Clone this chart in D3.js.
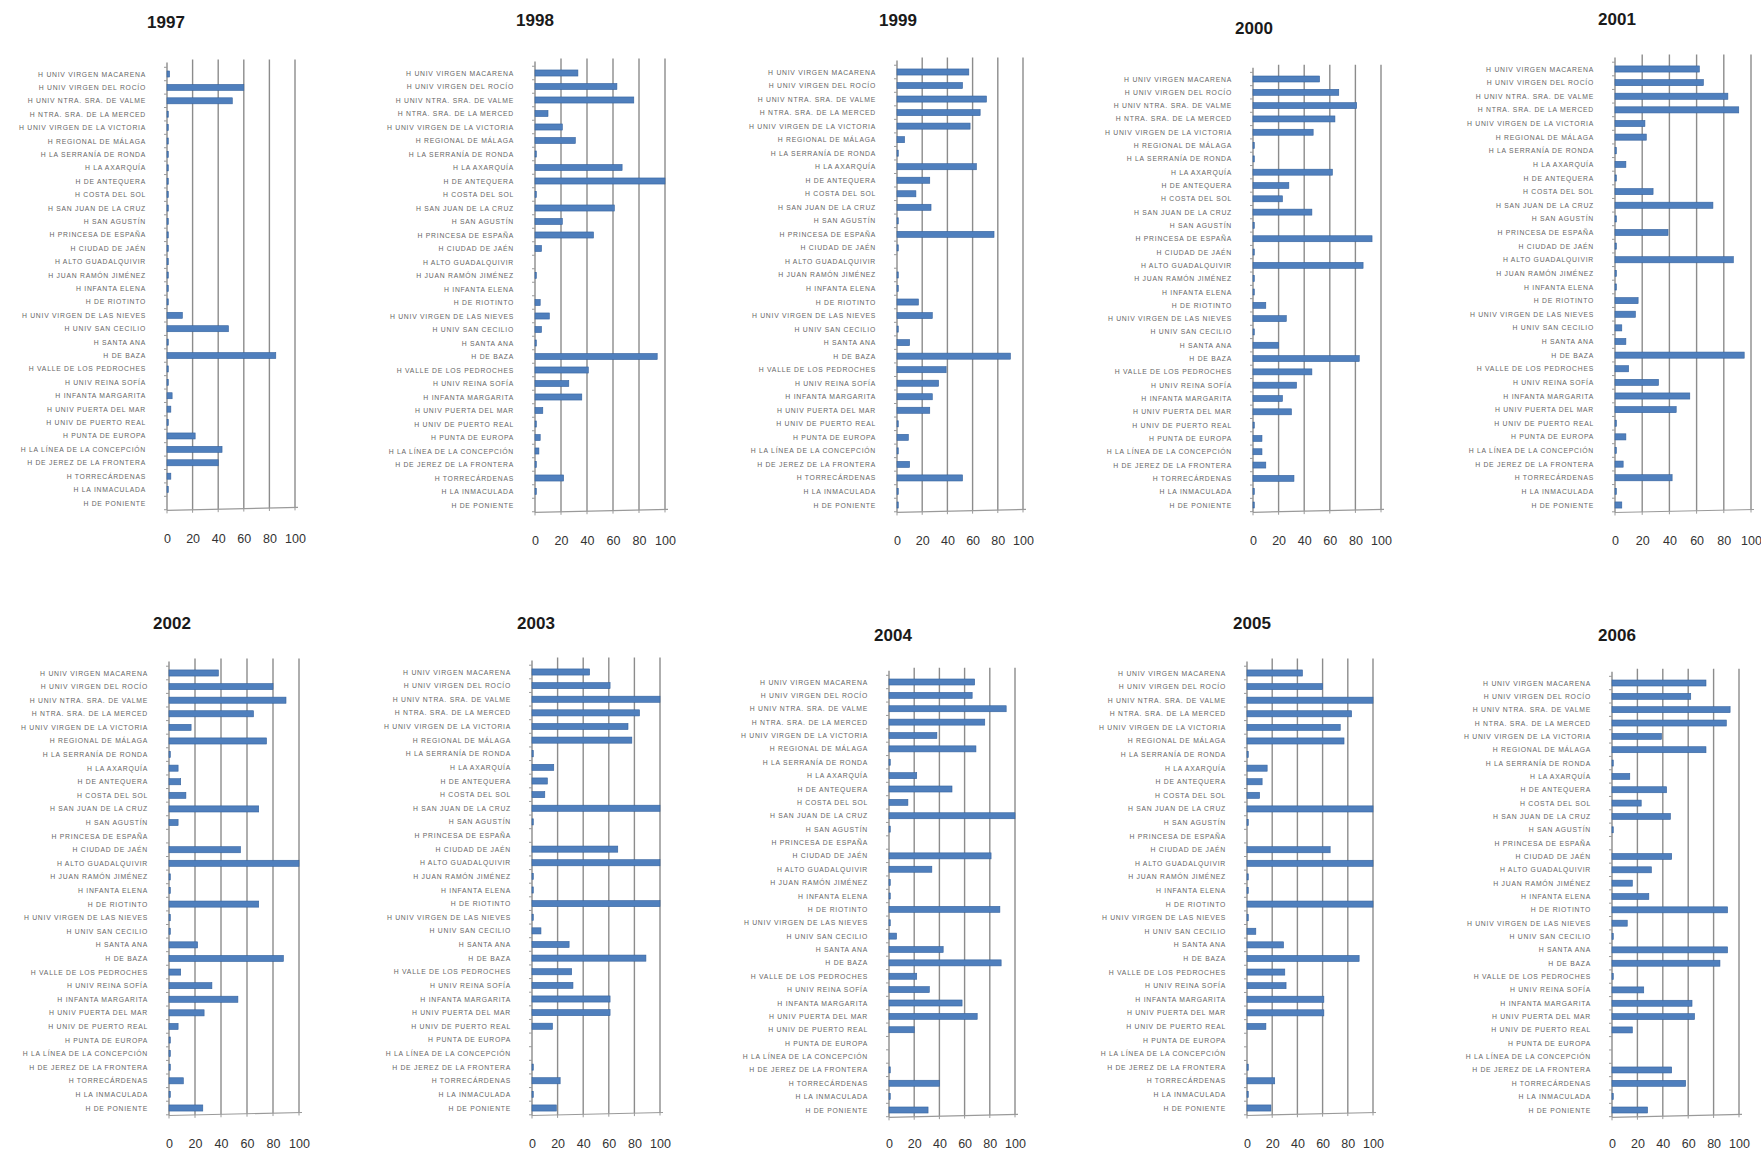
<!DOCTYPE html>
<html>
<head>
<meta charset="utf-8">
<script src="https://cdn.jsdelivr.net/npm/d3@7/dist/d3.min.js"></script>
<style>
  html, body { margin: 0; padding: 0; background: #ffffff; }
  svg { display: block; }
</style>
</head>
<body>
<svg id="chart" width="1761" height="1154"></svg>
<script>
// Hospitals shown on every panel (same order, top to bottom)
const CATEGORIES = [
  "H UNIV VIRGEN MACARENA",
  "H UNIV VIRGEN DEL ROCÍO",
  "H UNIV NTRA. SRA. DE VALME",
  "H NTRA. SRA. DE LA MERCED",
  "H UNIV VIRGEN DE LA VICTORIA",
  "H REGIONAL DE MÁLAGA",
  "H LA SERRANÍA DE RONDA",
  "H LA AXARQUÍA",
  "H DE ANTEQUERA",
  "H COSTA DEL SOL",
  "H SAN JUAN DE LA CRUZ",
  "H SAN AGUSTÍN",
  "H PRINCESA DE ESPAÑA",
  "H CIUDAD DE JAÉN",
  "H ALTO GUADALQUIVIR",
  "H JUAN RAMÓN JIMÉNEZ",
  "H INFANTA ELENA",
  "H DE RIOTINTO",
  "H UNIV VIRGEN DE LAS NIEVES",
  "H UNIV SAN CECILIO",
  "H SANTA ANA",
  "H DE BAZA",
  "H VALLE DE LOS PEDROCHES",
  "H UNIV REINA SOFÍA",
  "H INFANTA MARGARITA",
  "H UNIV PUERTA DEL MAR",
  "H UNIV DE PUERTO REAL",
  "H PUNTA DE EUROPA",
  "H LA LÍNEA DE LA CONCEPCIÓN",
  "H DE JEREZ DE LA FRONTERA",
  "H TORRECÁRDENAS",
  "H LA INMACULADA",
  "H DE PONIENTE"
];

const YEARS = ["1997", "1998", "1999", "2000", "2001", "2002", "2003", "2004", "2005", "2006"];

const TICKS = [0, 20, 40, 60, 80, 100];

// One value per hospital, same order as CATEGORIES
const V1997 = [2, 60, 51, 1, 1, 1, 1, 1, 1, 1, 1, 1, 1, 1, 1, 1, 1, 1, 12, 48, 1, 85, 1, 1, 4, 3, 1, 22, 43, 40, 3, 1, 0];
const V1998 = [33, 63, 76, 10, 21, 31, 1, 67, 100, 1, 61, 21, 45, 5, 0, 1, 0, 4, 11, 5, 1, 94, 41, 26, 36, 6, 1, 4, 3, 1, 22, 1, 0];
const V1999 = [57, 52, 71, 66, 58, 6, 1, 63, 26, 15, 27, 1, 77, 1, 0, 1, 1, 17, 28, 1, 10, 90, 39, 33, 28, 26, 1, 9, 1, 10, 52, 1, 1];
const V2000 = [52, 67, 81, 64, 47, 1, 1, 62, 28, 23, 46, 1, 93, 1, 86, 1, 1, 10, 26, 1, 20, 83, 46, 34, 23, 30, 1, 7, 7, 10, 32, 1, 1];
const V2001 = [62, 65, 83, 91, 22, 23, 1, 8, 1, 28, 72, 1, 39, 1, 87, 1, 1, 17, 15, 5, 8, 95, 10, 32, 55, 45, 1, 8, 1, 6, 42, 1, 5];
const V2002 = [38, 80, 90, 65, 17, 75, 1, 7, 9, 13, 69, 7, 0, 55, 100, 1, 1, 69, 1, 1, 22, 88, 9, 33, 53, 27, 7, 1, 1, 1, 11, 1, 26];
const V2003 = [45, 61, 100, 84, 75, 78, 1, 17, 12, 10, 100, 1, 0, 67, 100, 1, 1, 100, 1, 7, 29, 89, 31, 32, 61, 61, 16, 0, 0, 1, 22, 1, 19];
const V2004 = [68, 66, 93, 76, 38, 69, 1, 22, 50, 15, 100, 1, 0, 81, 34, 1, 1, 88, 1, 6, 43, 89, 22, 32, 58, 70, 20, 0, 0, 1, 40, 1, 31];
const V2005 = [44, 60, 100, 83, 74, 77, 1, 16, 12, 10, 100, 1, 0, 66, 100, 1, 1, 100, 1, 7, 29, 89, 30, 31, 61, 61, 15, 0, 0, 1, 22, 1, 19];
const V2006 = [74, 62, 93, 90, 39, 74, 1, 14, 43, 23, 46, 1, 0, 47, 31, 16, 29, 91, 12, 1, 91, 85, 1, 25, 63, 65, 16, 0, 0, 47, 58, 1, 28];

const VALUES = [V1997, V1998, V1999, V2000, V2001, V2002, V2003, V2004, V2005, V2006];

// Placement of each small chart on the page: value axis 0..100 spans x0..x1,
// first and last category rows at yTop / yBot, year title at (tx, ty)
const LAYOUT = [
  { x0: 167,  x1: 295,  yTop: 74,  yBot: 503,  tx: 166,  ty: 22 },
  { x0: 535,  x1: 665,  yTop: 73,  yBot: 505,  tx: 535,  ty: 20 },
  { x0: 897,  x1: 1023, yTop: 72,  yBot: 505,  tx: 898,  ty: 20 },
  { x0: 1253, x1: 1381, yTop: 79,  yBot: 505,  tx: 1254, ty: 28 },
  { x0: 1615, x1: 1751, yTop: 69,  yBot: 505,  tx: 1617, ty: 19 },
  { x0: 169,  x1: 299,  yTop: 673, yBot: 1108, tx: 172,  ty: 623 },
  { x0: 532,  x1: 660,  yTop: 672, yBot: 1108, tx: 536,  ty: 623 },
  { x0: 889,  x1: 1015, yTop: 682, yBot: 1110, tx: 893,  ty: 635 },
  { x0: 1247, x1: 1373, yTop: 673, yBot: 1108, tx: 1252, ty: 623 },
  { x0: 1612, x1: 1739, yTop: 683, yBot: 1110, tx: 1617, ty: 635 }
];

const BAR_FILL = "#4f7fbd";
const BAR_EDGE = "#35639e";
const GRID = "#8c8c8c";
const AXIS = "#9a9a9a";

const svg = d3.select("#chart");

YEARS.forEach((year, i) => {
  const L = LAYOUT[i];
  const vals = VALUES[i];
  const step = (L.yBot - L.yTop) / (CATEGORIES.length - 1);
  const plotTop = L.yTop - step * 0.85;
  const plotBot = L.yBot + step * 0.55;

  const x = d3.scaleLinear().domain([0, 100]).range([L.x0, L.x1]);
  const y = d3.scaleBand()
    .domain(CATEGORIES)
    .range([L.yTop - step / 2, L.yBot + step / 2])
    .paddingInner(0.55)
    .paddingOuter(0.275);

  const g = svg.append("g").attr("class", "panel");

  // year title
  g.append("text")
    .attr("x", L.tx)
    .attr("y", L.ty)
    .attr("text-anchor", "middle")
    .attr("dominant-baseline", "central")
    .attr("font-family", "Liberation Sans, Arial, sans-serif")
    .attr("font-weight", "bold")
    .attr("font-size", 17)
    .attr("fill", "#1a1a1a")
    .text(year);

  // vertical gridlines on the back wall
  g.append("g")
    .selectAll("line")
    .data(TICKS.filter(t => t > 0))
    .join("line")
    .attr("x1", d => x(d))
    .attr("x2", d => x(d))
    .attr("y1", plotTop - 3)
    .attr("y2", d => plotBot - 3 * d / 100)
    .attr("stroke", GRID)
    .attr("stroke-width", 1.4);

  // floor edge, slightly rising to the right
  g.append("line")
    .attr("x1", x(0)).attr("y1", plotBot)
    .attr("x2", x(100) + 3).attr("y2", plotBot - 3)
    .attr("stroke", AXIS)
    .attr("stroke-width", 1.2);

  // small tick marks under the floor at each gridline
  g.append("g")
    .selectAll("line")
    .data(TICKS)
    .join("line")
    .attr("x1", d => x(d)).attr("x2", d => x(d))
    .attr("y1", d => plotBot - 3 * d / 100)
    .attr("y2", d => plotBot - 3 * d / 100 + 3)
    .attr("stroke", AXIS)
    .attr("stroke-width", 1);

  // category axis line with ticks between rows
  g.append("line")
    .attr("x1", x(0)).attr("x2", x(0))
    .attr("y1", plotTop).attr("y2", plotBot)
    .attr("stroke", AXIS)
    .attr("stroke-width", 1.6);

  const sepY = d3.range(CATEGORIES.length + 1).map(k => L.yTop - step / 2 + k * step);
  g.append("g")
    .selectAll("line")
    .data(sepY)
    .join("line")
    .attr("x1", x(0) - 3).attr("x2", x(0))
    .attr("y1", d => d).attr("y2", d => d)
    .attr("stroke", AXIS)
    .attr("stroke-width", 1);

  // bars
  g.append("g")
    .selectAll("rect")
    .data(CATEGORIES.map((c, k) => ({ c, v: vals[k] })))
    .join("rect")
    .attr("x", x(0))
    .attr("y", d => y(d.c))
    .attr("width", d => Math.max(0, x(d.v) - x(0)))
    .attr("height", y.bandwidth())
    .attr("fill", BAR_FILL)
    .attr("stroke", d => d.v > 0 ? BAR_EDGE : "none")
    .attr("stroke-width", 0.6);

  // category labels
  g.append("g")
    .selectAll("text")
    .data(CATEGORIES)
    .join("text")
    .attr("x", x(0) - 21)
    .attr("y", d => y(d) + y.bandwidth() / 2)
    .attr("text-anchor", "end")
    .attr("dominant-baseline", "central")
    .attr("font-family", "Liberation Sans, Arial, sans-serif")
    .attr("font-size", 6.8)
    .attr("letter-spacing", 0.75)
    .attr("fill", "#666")
    .text(d => d);

  // value axis labels, set well below the floor
  const axis = d3.axisBottom(x)
    .tickValues(TICKS)
    .tickSize(0)
    .tickPadding(0)
    .tickFormat(d3.format("d"));
  const ax = g.append("g")
    .attr("transform", `translate(0, ${Math.min(plotBot + 24, 1139)})`)
    .call(axis);
  ax.select(".domain").remove();
  ax.selectAll("text")
    .attr("font-family", "Liberation Sans, Arial, sans-serif")
    .attr("font-size", 12.5)
    .attr("fill", "#333");
});
</script>
</body>
</html>
